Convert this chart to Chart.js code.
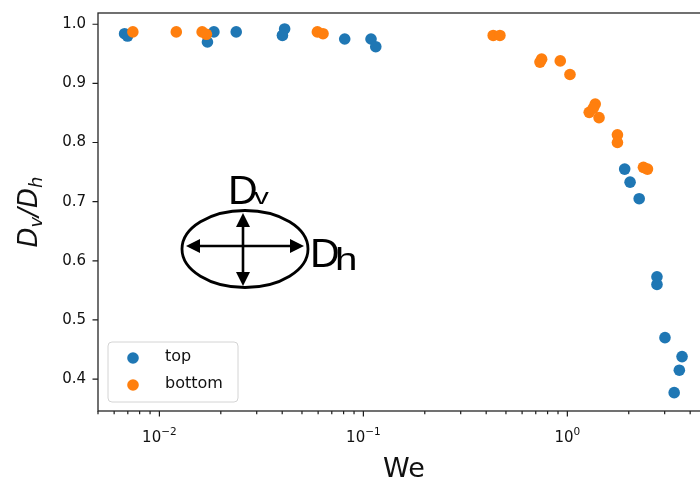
<!DOCTYPE html>
<html lang="en">
<head>
<meta charset="UTF-8">
<title>Dv/Dh vs We</title>
<script src="https://cdn.jsdelivr.net/npm/chart.js"></script>
<style>
  html, body { margin: 0; padding: 0; background: #fff; overflow: hidden; }
</style>
</head>
<body>
<canvas id="ratioChart" width="700" height="481"></canvas>
<script>
// Weber number and drop aspect ratio Dv/Dh, top and bottom drops
const topWe = [0.00675, 0.00698, 0.0172, 0.0185, 0.0238, 0.0411, 0.0401, 0.081, 0.109, 0.115,
               1.91, 2.03, 2.25, 2.75, 2.75, 3.01, 3.65, 3.54, 3.34];
const topRatio = [0.984, 0.980, 0.970, 0.987, 0.987, 0.992, 0.981, 0.975, 0.975, 0.962,
                  0.755, 0.733, 0.705, 0.573, 0.560, 0.470, 0.438, 0.415, 0.377];
const bottomWe = [0.00741, 0.0121, 0.0162, 0.0170, 0.0595, 0.0634, 0.433, 0.467, 0.748, 0.734,
                  0.923, 1.03, 1.37, 1.28, 1.43, 1.34, 1.76, 1.76, 2.36, 2.47];
const bottomRatio = [0.987, 0.987, 0.987, 0.983, 0.987, 0.984, 0.981, 0.981, 0.941, 0.936,
                     0.938, 0.915, 0.865, 0.851, 0.842, 0.858, 0.813, 0.800, 0.758, 0.755];

const yTicks = [0.4, 0.5, 0.6, 0.7, 0.8, 0.9, 1.0];
const xMajor = [0.01, 0.1, 1];
const xMajorLabels = [['10', '\u22122'], ['10', '\u22121'], ['10', '0']];

const BLUE = '#1f77b4';
const ORANGE = '#ff7f0e';
const FONT = '"DejaVu Sans", sans-serif';

function pairs(xs, ys) {
  return xs.map((v, i) => ({ x: v, y: ys[i] }));
}

// small helper for an arrow head pointing from (x0,y0) to the tip (x1,y1)
function arrowHead(ctx, x0, y0, x1, y1, len, half) {
  const ang = Math.atan2(y1 - y0, x1 - x0);
  ctx.save();
  ctx.translate(x1, y1);
  ctx.rotate(ang);
  ctx.beginPath();
  ctx.moveTo(0, 0);
  ctx.lineTo(-len, -half);
  ctx.lineTo(-len, half);
  ctx.closePath();
  ctx.fill();
  ctx.restore();
}

const axesDecor = {
  id: 'axesDecor',
  afterDraw(chart) {
    const { ctx, chartArea: a, scales: { x, y } } = chart;
    ctx.save();

    // tick marks
    ctx.strokeStyle = '#1a1a1a';
    ctx.lineWidth = 1.2;
    ctx.beginPath();
    for (let e = -3; e <= 0; e++) {
      for (let m = 1; m <= 9; m++) {
        const v = m * Math.pow(10, e);
        if (v < x.min || v > x.max) continue;
        const px = x.getPixelForValue(v);
        ctx.moveTo(px, a.bottom);
        ctx.lineTo(px, a.bottom + (m === 1 ? 5.5 : 3.2));
      }
    }
    yTicks.forEach(v => {
      const py = y.getPixelForValue(v);
      ctx.moveTo(a.left - 5.5, py);
      ctx.lineTo(a.left, py);
    });
    ctx.stroke();

    // spines (the right one falls just past the canvas edge)
    ctx.strokeStyle = '#262626';
    ctx.lineWidth = 1.3;
    ctx.strokeRect(a.left, a.top, a.right - a.left + 4, a.bottom - a.top);

    // y tick labels
    ctx.fillStyle = '#111';
    ctx.font = '15px ' + FONT;
    ctx.textAlign = 'right';
    ctx.textBaseline = 'middle';
    yTicks.forEach(v => ctx.fillText(v.toFixed(1), a.left - 12, y.getPixelForValue(v)));

    // x tick labels, 10 with a superscript exponent
    ctx.textAlign = 'left';
    ctx.textBaseline = 'alphabetic';
    xMajor.forEach((v, i) => {
      const [base, sup] = xMajorLabels[i];
      ctx.font = '15px ' + FONT;
      const wb = ctx.measureText(base).width;
      ctx.font = '10.5px ' + FONT;
      const ws = ctx.measureText(sup).width;
      const x0 = x.getPixelForValue(v) - (wb + ws) / 2;
      ctx.font = '15px ' + FONT;
      ctx.fillText(base, x0, 442);
      ctx.font = '10.5px ' + FONT;
      ctx.fillText(sup, x0 + wb, 435);
    });

    // x axis title, centred on the full axis (0.005 to 5)
    ctx.font = '27px ' + FONT;
    ctx.textAlign = 'center';
    ctx.fillText('We', (x.getPixelForValue(0.005) + x.getPixelForValue(5)) / 2, 477);

    // y axis title, D_v/D_h in italic with subscripts
    const parts = [['D', 0], ['v', 1], ['/', 0], ['D', 0], ['h', 1]];
    const big = 'italic 26px ' + FONT;
    const small = 'italic 18px ' + FONT;
    let total = 0;
    parts.forEach(([t, s]) => { ctx.font = s ? small : big; total += ctx.measureText(t).width; });
    ctx.save();
    ctx.translate(37, (a.top + a.bottom) / 2);
    ctx.rotate(-Math.PI / 2);
    ctx.textAlign = 'left';
    let cx = -total / 2;
    parts.forEach(([t, s]) => {
      ctx.font = s ? small : big;
      ctx.fillText(t, cx, s ? 5 : 0);
      cx += ctx.measureText(t).width;
    });
    ctx.restore();

    // sketch of the drop with its two diameters
    const ex = 245, ey = 249;
    ctx.strokeStyle = '#000';
    ctx.fillStyle = '#000';
    ctx.lineWidth = 2.8;
    ctx.beginPath();
    ctx.ellipse(ex, ey, 63, 38.5, 0, 0, Math.PI * 2);
    ctx.stroke();
    ctx.lineWidth = 2.6;
    ctx.beginPath();
    ctx.moveTo(196, 246); ctx.lineTo(294, 246);
    ctx.moveTo(243, 224); ctx.lineTo(243, 275);
    ctx.stroke();
    arrowHead(ctx, 243, 246, 186, 246, 14, 7);
    arrowHead(ctx, 243, 246, 304, 246, 14, 7);
    arrowHead(ctx, 243, 246, 243, 213, 14, 7);
    arrowHead(ctx, 243, 246, 243, 286, 14, 7);

    ctx.textAlign = 'left';
    ctx.font = '41px "Liberation Sans", sans-serif';
    ctx.fillText('D', 228, 204);
    ctx.save();
    ctx.translate(254, 204);
    ctx.scale(1.35, 1);
    ctx.font = '22px "Liberation Sans", sans-serif';
    ctx.fillText('v', 0, 0);
    ctx.restore();
    ctx.font = '41px "Liberation Sans", sans-serif';
    ctx.fillText('D', 310, 267);
    ctx.save();
    ctx.translate(335, 270);
    ctx.scale(1.3, 1);
    ctx.font = '31px "Liberation Sans", sans-serif';
    ctx.fillText('h', 0, 0);
    ctx.restore();

    // legend
    const lx = 108, ly = 342, lw = 130, lh = 60, r = 4;
    ctx.beginPath();
    ctx.roundRect(lx, ly, lw, lh, r);
    ctx.fillStyle = 'rgba(255,255,255,0.8)';
    ctx.fill();
    ctx.strokeStyle = '#d4d4d4';
    ctx.lineWidth = 1;
    ctx.stroke();
    chart.data.datasets.forEach((ds, i) => {
      const yy = 358 + i * 27;
      ctx.fillStyle = ds.backgroundColor;
      ctx.beginPath();
      ctx.arc(133, yy, 5.8, 0, Math.PI * 2);
      ctx.fill();
      ctx.fillStyle = '#111';
      ctx.font = '16px ' + FONT;
      ctx.textBaseline = 'middle';
      ctx.fillText(ds.label, 165, yy - 1);
      ctx.textBaseline = 'alphabetic';
    });

    ctx.restore();
  }
};

new Chart(document.getElementById('ratioChart'), {
  type: 'scatter',
  data: {
    datasets: [
      { label: 'top', data: pairs(topWe, topRatio), backgroundColor: BLUE, borderColor: BLUE,
        pointRadius: 5.8, borderWidth: 0, order: 2 },
      { label: 'bottom', data: pairs(bottomWe, bottomRatio), backgroundColor: ORANGE, borderColor: ORANGE,
        pointRadius: 5.8, borderWidth: 0, order: 1 }
    ]
  },
  options: {
    responsive: false,
    animation: false,
    devicePixelRatio: 1,
    events: [],
    layout: { autoPadding: false, padding: { left: 98, top: 13, right: 0, bottom: 70 } },
    scales: {
      x: { type: 'logarithmic', min: 0.005, max: 4.47, bounds: 'data', display: false },
      y: { type: 'linear', min: 0.346, max: 1.019, bounds: 'data', display: false }
    },
    plugins: { legend: { display: false }, tooltip: { enabled: false } }
  },
  plugins: [axesDecor]
});
</script>
</body>
</html>
